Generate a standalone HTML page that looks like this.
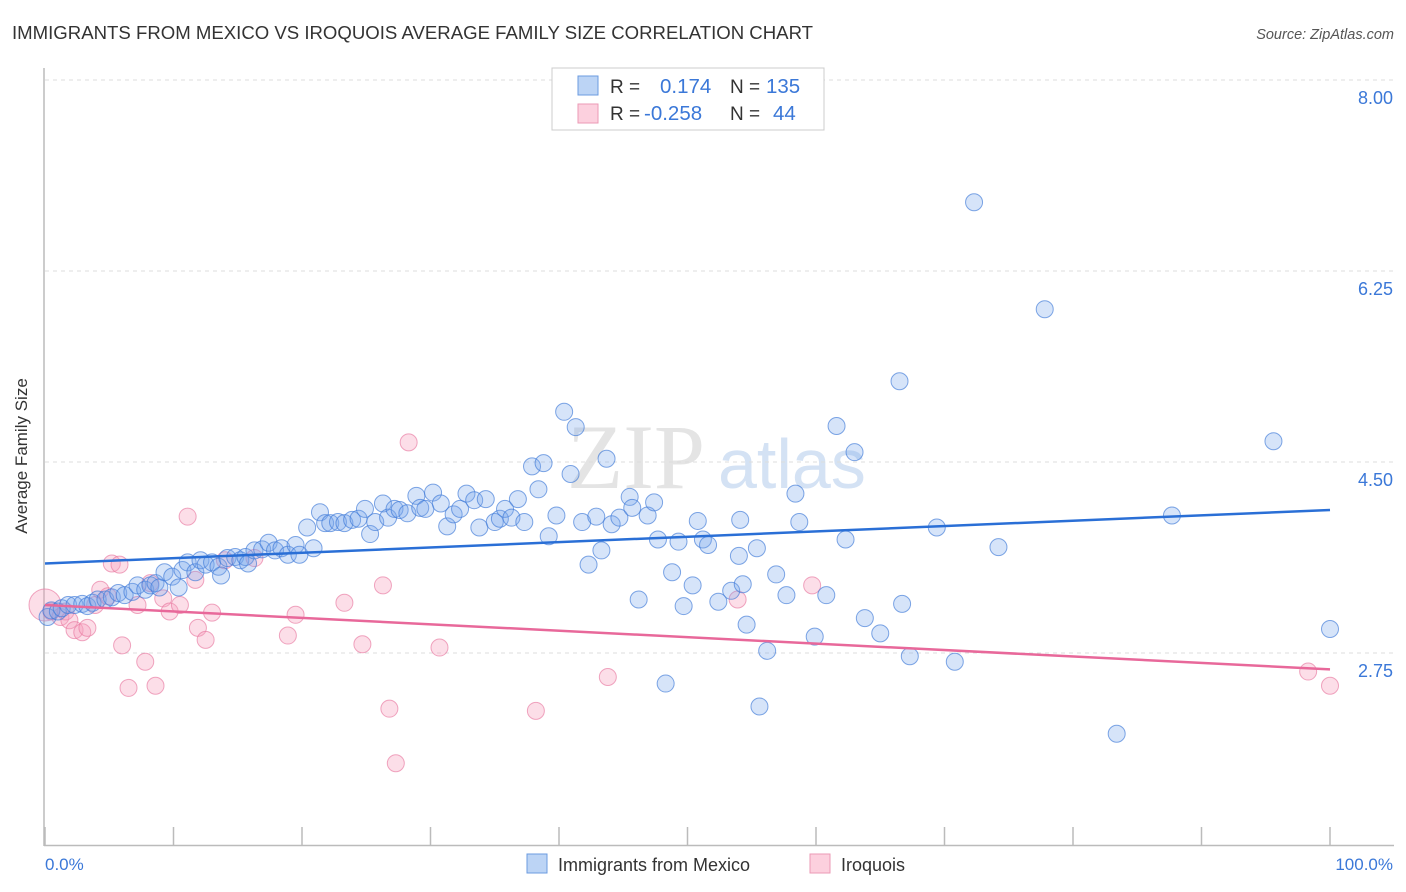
<!DOCTYPE html>
<html><head><meta charset="utf-8"><style>
body{margin:0;background:#fff;font-family:"Liberation Sans",sans-serif;}
svg{display:block}
</style></head><body>
<svg id="chart" width="1406" height="892">
<text x="12" y="39" font-size="18.6" fill="#333">IMMIGRANTS FROM MEXICO VS IROQUOIS AVERAGE FAMILY SIZE CORRELATION CHART</text>
<text x="1394" y="39" font-size="14.5" fill="#555" font-style="italic" text-anchor="end">Source: ZipAtlas.com</text>
<text x="705" y="488" font-size="92" fill="#e4e4e4" font-family="Liberation Serif,serif" text-anchor="end">ZIP</text>
<text x="718" y="488" font-size="70" fill="#d4e2f4" text-anchor="start">atlas</text>
<g id="grid"></g>
<line x1="44" y1="68" x2="44" y2="846" stroke="#bbb" stroke-width="1.5"/>
<line x1="44" y1="845.5" x2="1394" y2="845.5" stroke="#bbb" stroke-width="1.5"/>
<g id="xticks"></g>
<text x="27" y="456" font-size="17" fill="#333" text-anchor="middle" transform="rotate(-90 27 456)">Average Family Size</text>
<text x="45" y="870" font-size="17" fill="#3b78d8">0.0%</text>
<text x="1393" y="870" font-size="17" fill="#3b78d8" text-anchor="end">100.0%</text>
<g id="pts"></g>
<g id="lines"></g>
<g>
<rect x="552" y="68" width="272" height="62" fill="#fff" stroke="#ccc"/>
<rect x="578" y="76" width="20" height="19" fill="#bcd4f5" stroke="#6b9be0"/>
<rect x="578" y="104" width="20" height="19" fill="#fcd0de" stroke="#eb9ab5"/>
<text y="93" font-size="19" fill="#333"><tspan x="610">R =</tspan><tspan x="660" fill="#3b78d8" font-size="20.5">0.174</tspan><tspan x="730">N =</tspan><tspan x="766" fill="#3b78d8" font-size="20.5">135</tspan></text>
<text y="120" font-size="19" fill="#333"><tspan x="610">R =</tspan><tspan x="644" fill="#3b78d8" font-size="20.5">-0.258</tspan><tspan x="730">N =</tspan><tspan x="773" fill="#3b78d8" font-size="20.5">44</tspan></text>
</g>
<g>
<rect x="527" y="854" width="20" height="19" fill="#bcd4f5" stroke="#6b9be0"/>
<text x="558" y="871" font-size="18" fill="#333">Immigrants from Mexico</text>
<rect x="810" y="854" width="20" height="19" fill="#fcd0de" stroke="#eb9ab5"/>
<text x="841" y="871" font-size="18" fill="#333">Iroquois</text>
</g>
</svg>
<script>
const yTicks=[8.00,6.25,4.50,2.75];
const yTickLabels=["8.00","6.25","4.50","2.75"];
const xTickPct=[0,10,20,30,40,50,60,70,80,90,100];
const blueX=[0.2,0.5,1.0,1.3,1.8,2.3,2.9,3.3,3.7,4.1,4.7,5.2,5.7,6.2,6.8,7.2,7.8,8.2,8.6,8.9,9.3,9.9,10.4,10.7,11.1,11.7,12.1,12.5,13.0,13.5,13.7,14.2,14.8,15.2,15.6,15.8,16.3,16.9,17.4,17.9,18.4,18.9,19.5,19.8,20.4,20.9,21.4,21.8,22.2,22.8,23.3,23.9,24.4,24.9,25.3,25.7,26.3,26.7,27.2,27.6,28.2,28.9,29.2,29.6,30.2,30.8,31.3,31.8,32.3,32.8,33.4,33.8,34.3,35.0,35.4,35.8,36.3,36.8,37.3,37.9,38.4,38.8,39.2,39.8,40.4,40.9,41.3,41.8,42.3,42.9,43.3,43.7,44.1,44.7,45.5,45.7,46.2,46.9,47.4,47.7,48.3,48.8,49.3,49.7,50.4,50.8,51.2,51.6,52.4,53.4,54.0,54.1,54.3,54.6,55.4,55.6,56.2,56.9,57.7,58.4,58.7,59.9,60.8,61.6,62.3,63.0,63.8,65.0,66.5,66.7,67.3,69.4,70.8,72.3,74.2,77.8,83.4,87.7,95.6,100];
const blueY=[3.08,3.14,3.13,3.16,3.19,3.19,3.20,3.18,3.21,3.24,3.24,3.26,3.30,3.28,3.31,3.37,3.33,3.37,3.39,3.35,3.49,3.45,3.35,3.51,3.58,3.49,3.60,3.56,3.58,3.54,3.46,3.62,3.63,3.60,3.63,3.57,3.69,3.70,3.76,3.69,3.71,3.65,3.74,3.65,3.90,3.71,4.04,3.94,3.94,3.95,3.94,3.97,3.98,4.07,3.84,3.95,4.12,3.99,4.07,4.06,4.03,4.19,4.08,4.07,4.22,4.12,3.91,4.02,4.07,4.21,4.15,3.90,4.16,3.95,3.98,4.07,3.99,4.16,3.95,4.46,4.25,4.49,3.82,4.01,4.96,4.39,4.82,3.95,3.56,4.00,3.69,4.53,3.93,3.99,4.18,4.08,3.24,4.01,4.13,3.79,2.47,3.49,3.77,3.18,3.37,3.96,3.79,3.74,3.22,3.32,3.64,3.97,3.38,3.01,3.71,2.26,2.77,3.47,3.28,4.21,3.95,2.90,3.28,4.83,3.79,4.59,3.07,2.93,5.24,3.20,2.72,3.90,2.67,6.88,3.72,5.90,2.01,4.01,4.69,2.97];
const pinkX=[0,0.5,1.2,1.6,1.9,2.3,2.9,3.3,3.9,4.3,4.9,5.2,5.8,6.0,6.5,7.2,7.8,8.2,8.6,9.2,9.7,10.5,11.1,11.7,11.9,12.5,13.0,14.0,16.3,18.9,19.5,23.3,24.7,26.3,26.8,27.3,28.3,30.7,38.2,43.8,53.9,59.7,98.3,100];
const pinkY=[3.19,3.13,3.08,3.13,3.05,2.96,2.94,2.98,3.19,3.33,3.27,3.57,3.56,2.82,2.43,3.19,2.67,3.39,2.45,3.25,3.13,3.19,4.00,3.42,2.98,2.87,3.12,3.60,3.62,2.91,3.10,3.21,2.83,3.37,2.24,1.74,4.68,2.80,2.22,2.53,3.24,3.37,2.58,2.45];
const blueTrend=[3.57,4.06];
const pinkTrend=[3.19,2.60];
const NS="http://www.w3.org/2000/svg";
function sx(p){return 45+p*12.85;}
function sy(v){return 653-(v-2.75)*109.14;}
function mk(tag,attrs,parent){const e=document.createElementNS(NS,tag);for(const k in attrs)e.setAttribute(k,attrs[k]);document.getElementById(parent).appendChild(e);return e;}
yTicks.forEach((v,i)=>{
 const l=mk('line',{x1:45,x2:1394,y1:sy(v),y2:sy(v),stroke:'#ddd','stroke-dasharray':'4,4'},'grid');
 
 
 const t=mk('text',{x:1393,y:sy(v)+24,'font-size':18,fill:'#3b78d8','text-anchor':'end'},'grid');
 t.textContent=yTickLabels[i];
 
 
});
xTickPct.forEach(p=>{
 const l=mk('line',{x1:sx(p),x2:sx(p),y1:827,y2:845,stroke:'#bbb','stroke-width':1.5},'xticks');
 
 
});
pinkX.forEach((x,i)=>{
 const c=mk('circle',{cx:sx(x),cy:sy(pinkY[i]),r:i===0?16:8.5,fill:'rgba(245,160,190,0.35)',stroke:'rgba(232,120,160,0.65)','stroke-width':1},'pts');
 
 
});
blueX.forEach((x,i)=>{
 const c=mk('circle',{cx:sx(x),cy:sy(blueY[i]),r:8.5,fill:'rgba(120,165,235,0.3)',stroke:'rgba(60,120,215,0.65)','stroke-width':1},'pts');
 
 
});
const bl=mk('line',{x1:sx(0),x2:sx(100),y1:sy(blueTrend[0]),y2:sy(blueTrend[1]),stroke:'#2a6fd6','stroke-width':2.5},'lines');


const pl=mk('line',{x1:sx(0),x2:sx(100),y1:sy(pinkTrend[0]),y2:sy(pinkTrend[1]),stroke:'#e8689a','stroke-width':2.5},'lines');


</script>
</body></html>
